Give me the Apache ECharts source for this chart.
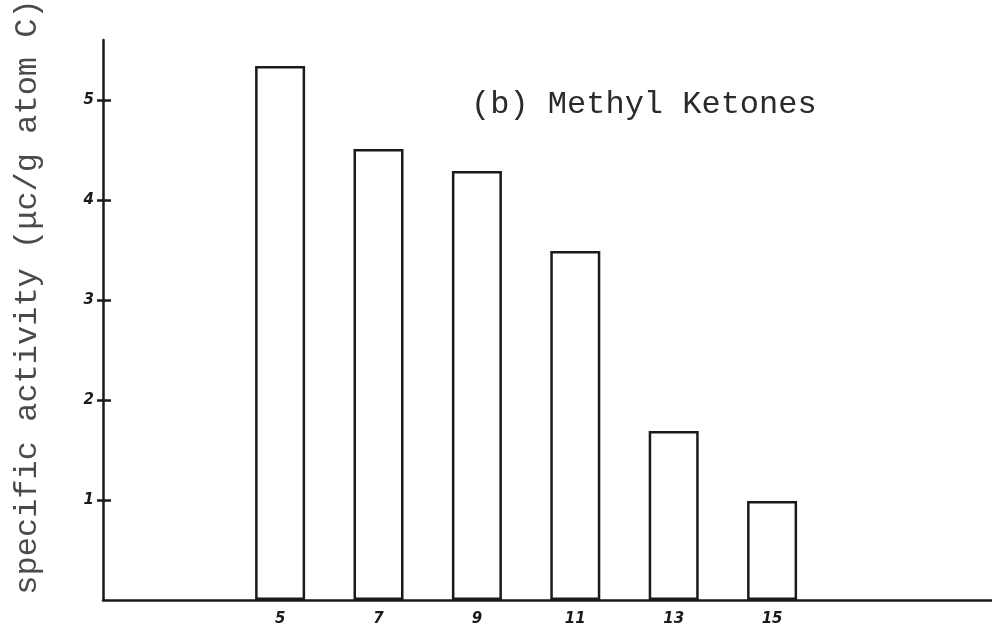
<!DOCTYPE html>
<html>
<head>
<meta charset="utf-8">
<script src="https://cdn.jsdelivr.net/npm/echarts@6/dist/echarts.min.js"></script>
<style>html,body{margin:0;padding:0;background:#fff}#c{width:992px;height:626px}</style>
</head>
<body>
<div id="c"></div>
<script>
const carbonNumbers = [5, 7, 9, 11, 13, 15];
const specificActivity = [5.34, 4.51, 4.29, 3.49, 1.69, 0.99];
const yTicks = [1, 2, 3, 4, 5];
const titleText = '(b) Methyl Ketones';
const yName = 'specific activity (\u03bcc/g atom C)';

const chart = echarts.init(document.getElementById('c'), null, {renderer: 'canvas'});
const ink = '#1a1a1a';
const hand = {fontFamily: 'DejaVu Sans', fontStyle: 'italic', fontWeight: 'bold', fontSize: 15, color: ink};
chart.setOption({
  animation: false,
  backgroundColor: '#fff',
  title: {
    text: titleText, left: 466, top: 84,
    textStyle: {fontFamily: 'Liberation Mono', fontWeight: 'normal', fontSize: 32, color: '#2a2a2a'}
  },
  graphic: [{
    type: 'text', x: 28, y: 297, rotation: Math.PI / 2,
    style: {text: yName, align: 'center', verticalAlign: 'middle',
      font: 'normal 32px "Liberation Mono"', fill: '#4a4a4a'}
  }],
  grid: {left: 103, right: 0, top: 40, bottom: 26, containLabel: false, outerBoundsMode: 'none'},
  xAxis: {
    type: 'value', min: 1.4, max: 19.47,
    splitLine: {show: false},
    axisLine: {show: true, lineStyle: {color: ink, width: 2.5}},
    axisTick: {show: false},
    axisLabel: Object.assign({customValues: carbonNumbers, margin: 12, formatter: v => String(v)}, hand)
  },
  yAxis: [{
    type: 'value', min: 0, max: 5.6,
    splitLine: {show: false},
    axisLine: {show: true, lineStyle: {color: ink, width: 2.5}},
    axisTick: {show: true, length: 6, lineStyle: {color: ink, width: 2.5}, customValues: yTicks},
    axisLabel: Object.assign({customValues: yTicks, margin: 9}, hand)
  }, {
    type: 'value', min: 0, max: 5.6, position: 'left',
    splitLine: {show: false},
    axisLine: {show: false},
    axisTick: {show: true, inside: true, length: 8, lineStyle: {color: ink, width: 2.5}, customValues: yTicks},
    axisLabel: {show: false}
  }],
  series: [{
    type: 'bar',
    data: carbonNumbers.map((c, i) => [c, specificActivity[i]]),
    barWidth: 50,
    itemStyle: {color: '#fff', borderColor: ink, borderWidth: 2.5}
  }]
});
</script>
</body>
</html>
